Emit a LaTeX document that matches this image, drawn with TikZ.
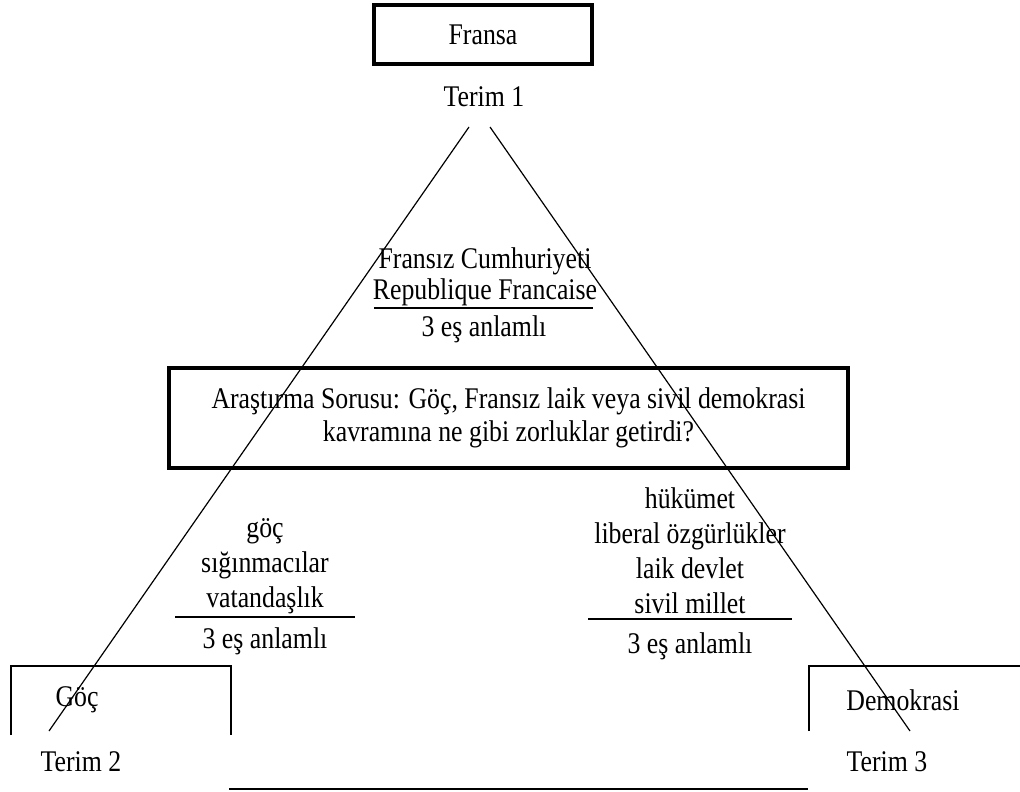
\documentclass[tikz,border=0pt]{standalone}
\usepackage{fontspec}
\setmainfont{Liberation Serif}[FakeStretch=0.86]
\begin{document}
\begin{tikzpicture}[x=1pt,y=-1pt,
  lbl/.style={inner sep=0pt, font=\fontsize{30}{35}\selectfont, align=center},
  heavybox/.style={draw, line width=3.5pt, inner sep=0pt},
  thinframe/.style={line width=1.3pt},
  side/.style={line width=1.2pt},
  rule/.style={line width=2.3pt}]
\useasboundingbox (0,0) rectangle (1020,792);

% Term 1 at the apex
\node[heavybox, lbl, minimum width=218pt, minimum height=59pt] (fransa) at (483,34.5) {Fransa};
\node[lbl] (t1) at (484,97) {Terim 1};

% sides of the triangle
\coordinate (apexL) at (469,127);
\coordinate (baseL) at (49,731);
\coordinate (apexR) at (490,127);
\coordinate (baseR) at (910,731);
\draw[side] (apexL) -- (baseL);
\draw[side] (apexR) -- (baseR);

% synonyms of Term 1
\node[lbl, font=\fontsize{30}{31}\selectfont] (syn1) at (485,277) {Fransız Cumhuriyeti\\Republique Francaise};
\coordinate (r1a) at (374,308);
\coordinate (r1b) at (593,308);
\draw[rule] (r1a) -- (r1b);
\node[lbl] (cnt1) at (484,329) {3 eş anlamlı};

% research question
\node[heavybox, lbl, font=\fontsize{30}{33}\selectfont, minimum width=679pt, minimum height=100pt] (rq) at (508.5,418)
  {Araştırma Sorusu: Göç, Fransız laik veya sivil demokrasi\\kavramına ne gibi zorluklar getirdi?};

% synonyms of Term 2
\node[lbl] (syn2) at (265,566) {göç\\sığınmacılar\\vatandaşlık};
\coordinate (r2a) at (175,617);
\coordinate (r2b) at (355,617);
\draw[rule] (r2a) -- (r2b);
\node[lbl] (cnt2) at (265,641) {3 eş anlamlı};

% synonyms of Term 3
\node[lbl] (syn3) at (690,551) {hükümet\\liberal özgürlükler\\laik devlet\\sivil millet};
\coordinate (r3a) at (588,619);
\coordinate (r3b) at (792,619);
\draw[rule] (r3a) -- (r3b);
\node[lbl] (cnt3) at (690,646) {3 eş anlamlı};

% Term 2 frame
\coordinate (f2a) at (11,735);
\coordinate (f2b) at (11,666);
\coordinate (f2c) at (231,666);
\coordinate (f2d) at (231,735);
\draw[thinframe] (f2a) -- (f2b) -- (f2c) -- (f2d);
\node[lbl] (goc) at (77,700) {Göç};
\node[lbl] (t2) at (81,762) {Terim 2};

% Term 3 frame
\coordinate (f3a) at (809,731);
\coordinate (f3b) at (809,666);
\coordinate (f3c) at (1020,666);
\draw[thinframe] (f3a) -- (f3b) -- (f3c);
\node[lbl] (demo) at (903,700) {Demokrasi};
\node[lbl] (t3) at (887,762) {Terim 3};

% base rule
\coordinate (b1) at (229,789);
\coordinate (b2) at (808,789);
\draw[line width=2pt] (b1) -- (b2);
\end{tikzpicture}
\end{document}
